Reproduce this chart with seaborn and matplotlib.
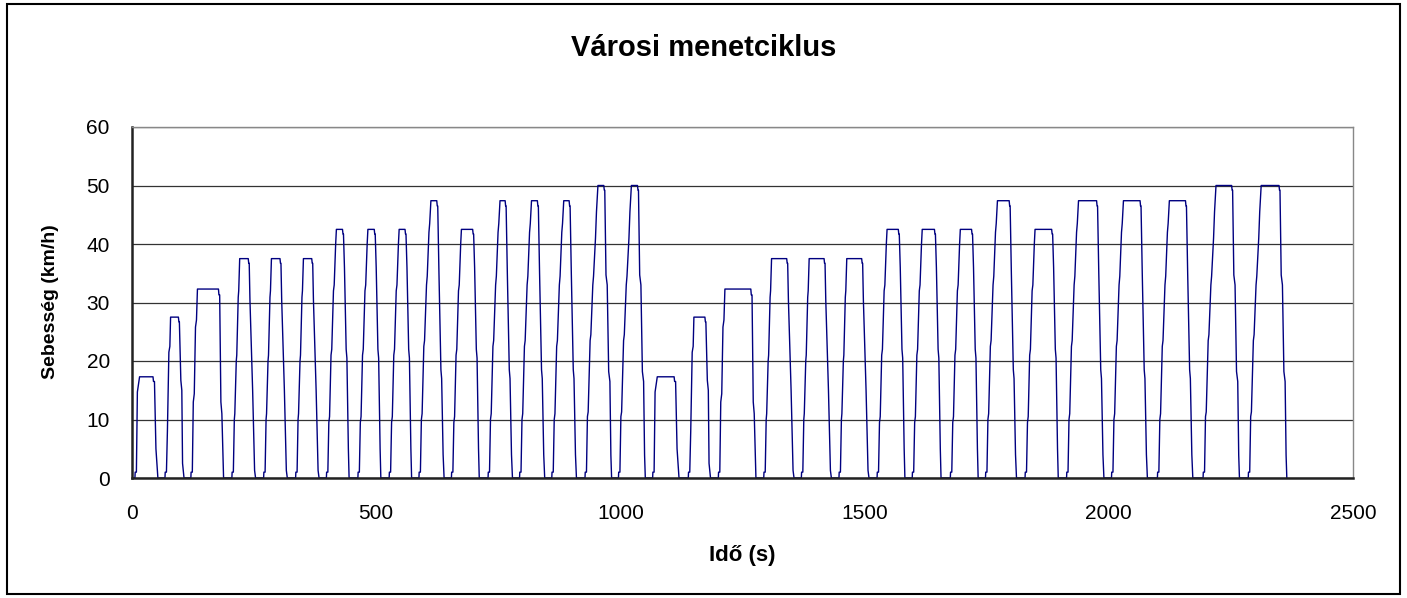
import seaborn as sns
import matplotlib.pyplot as plt
import matplotlib.patches as patches
import pandas as pd

# Városi menetciklus - impulzusok (kezdés, fékezés kezdete, csúcssebesség)
starts = [6.5, 68, 121, 205, 270, 335.5, 398.5, 463, 527, 588, 654.5, 729.5, 794, 860, 928, 996.5,
          1066.5, 1139.5, 1201, 1294, 1371, 1448, 1526, 1598, 1676, 1748, 1829, 1914, 2006, 2100, 2193.5, 2286]
brakes = [43, 95, 177, 238, 303, 368, 431, 496, 559, 624, 697.5, 764, 830, 895, 966, 1035,
          1110, 1173, 1267, 1340.5, 1417, 1494, 1569, 1643, 1719, 1796, 1883, 1975, 2064, 2157, 2251.5, 2348.5]
peaks = [17.3, 27.5, 32.3, 37.5, 37.5, 37.5, 42.5, 42.5, 42.5, 47.4, 42.5, 47.4, 47.4, 47.4, 50, 50,
         17.3, 27.5, 32.3, 37.5, 37.5, 37.5, 42.5, 42.5, 42.5, 47.4, 42.5, 47.4, 47.4, 47.4, 50, 50]

# gyorsítás (sebességváltásokkal) - idő a kezdéstől
rise_offsets = {
    17.3: [-0.5, 0, 2.5, 4.5, 9],
    27.5: [-0.5, 0, 2.5, 4.5, 7.5, 9.5, 11],
    32.3: [-0.5, 0, 2.5, 4.5, 6.5, 9, 11, 13],
    37.5: [-0.5, 0, 2.5, 4.5, 5.5, 8.5, 9.5, 12.5, 13.5, 15.5],
    42.5: [-0.5, 0, 2.5, 4.5, 6, 9, 10.5, 14, 15.5, 18.5, 20],
    47.4: [-0.5, 0, 2.5, 4.5, 6, 9.5, 11, 15, 16.5, 20, 21.5, 24],
    50: [-0.5, 0, 2.5, 4.5, 6, 10, 11.5, 15.5, 17, 21, 23, 26],
}
rise_speeds = {
    17.3: [0, 1, 1, 14.7, 17.3],
    27.5: [0, 1, 1, 8, 21.5, 22.5, 27.5],
    32.3: [0, 1, 1, 13, 14.4, 25.8, 27, 32.3],
    37.5: [0, 1, 1, 10, 11, 20, 21, 30.9, 32, 37.5],
    42.5: [0, 1, 1, 9.5, 10.5, 21, 22, 32, 33, 40, 42.5],
    47.4: [0, 1, 1, 10, 11, 22.5, 23.5, 33, 34.5, 42, 43.5, 47.4],
    50: [0, 1, 1, 10.5, 11.3, 23.5, 24.5, 33, 34.5, 41, 45.5, 50],
}
# lassítás - idő a fékezés kezdetétől
fall_offsets = {
    17.3: [0, 1, 3, 6, 10],
    27.5: [0, 1, 2, 5, 7, 8.5, 11.5],
    32.3: [0, 1, 2.5, 5, 7, 10.5],
    37.5: [0, 1, 2, 3.5, 9, 13, 15],
    42.5: [0, 1, 2, 4, 7.5, 9, 12, 13.5],
    47.4: [0, 1, 2, 4.5, 8.5, 10, 13, 15],
    50: [0, 1, 2, 4.5, 7, 10, 12.5, 14.5, 16],
}
fall_speeds = {
    17.3: [17.3, 16.5, 16.5, 5, 0],
    27.5: [27.5, 26.7, 26.7, 16.7, 15, 2.5, 0],
    32.3: [32.3, 31.3, 31.3, 13, 11, 0],
    37.5: [37.5, 36.7, 36.7, 30.4, 15, 1.3, 0],
    42.5: [42.5, 41.7, 41.7, 36, 22, 20.5, 5, 0],
    47.4: [47.4, 46.5, 46.5, 35, 18.5, 17, 4, 0],
    50: [50, 49.2, 49.2, 34.7, 33, 18.2, 16.5, 3.9, 0],
}

time, speed = [0], [0]
for s, b, p in zip(starts, brakes, peaks):
    time += [s + o for o in rise_offsets[p]]
    speed += rise_speeds[p]
    time += [b + o for o in fall_offsets[p]]
    speed += fall_speeds[p]
df = pd.DataFrame({"t": time, "v": speed})

sns.set_style("white")
plt.rcParams['font.family'] = ['Liberation Sans', 'DejaVu Sans']
plt.rcParams['text.color'] = 'black'
plt.rcParams['axes.labelcolor'] = 'black'

fig = plt.figure(figsize=(14.07, 5.98), dpi=100)
ax = fig.add_axes([132 / 1407, 1 - 478 / 598, 1221 / 1407, 351 / 598])

sns.lineplot(data=df, x="t", y="v", sort=False, estimator=None, color="#000080", linewidth=1.0, ax=ax)

ax.set_xlim(0, 2500)
ax.set_ylim(0, 60)
ax.set_xticks(range(0, 2501, 500))
ax.set_yticks(range(0, 61, 10))
ax.yaxis.grid(True, color="#333333", linewidth=0.9)
ax.set_axisbelow(True)
ax.tick_params(axis="both", direction="out", length=7, width=1, colors="#333333",
               labelsize=15, labelcolor="black")
ax.tick_params(axis="x", pad=12)
ax.tick_params(axis="y", pad=9)
for side in ["left", "bottom"]:
    ax.spines[side].set_color("#222222")
    ax.spines[side].set_linewidth(1.8)
for side in ["top", "right"]:
    ax.spines[side].set_color("#888888")
    ax.spines[side].set_linewidth(1.0)

ax.set_xlabel("")
ax.set_ylabel("")
fig.text(0.5, 1 - 48 / 598, "Városi menetciklus", ha="center", va="center", fontsize=21, fontweight="bold")
fig.text(742 / 1407, 1 - 556 / 598, "Idő (s)", ha="center", va="center", fontsize=16, fontweight="bold")
fig.text(51 / 1407, 1 - 302 / 598, "Sebesség (km/h)", ha="center", va="center", rotation=90,
         fontsize=14, fontweight="bold")

# külső keret
fig.patches.append(patches.Rectangle((7 / 1407, 4 / 598), 1393 / 1407, 590 / 598, transform=fig.transFigure,
                                     fill=False, edgecolor="black", linewidth=1.5))

fig.savefig("out.png", dpi=100)
